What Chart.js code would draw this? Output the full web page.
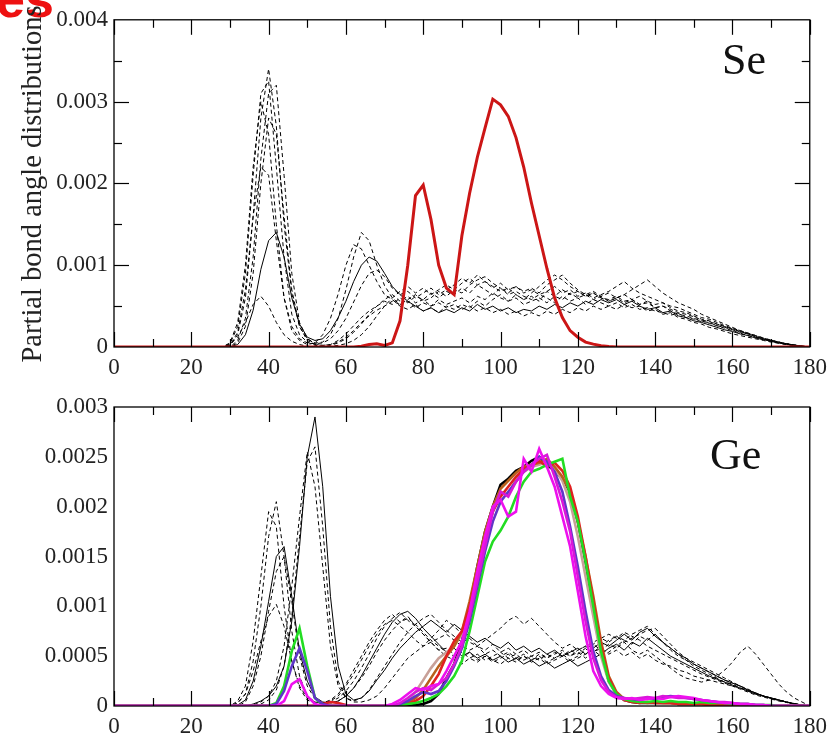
<!DOCTYPE html>
<html><head><meta charset="utf-8">
<script src="https://cdn.jsdelivr.net/npm/chart.js@4.4.0/dist/chart.umd.min.js"></script>
<style>
html,body{margin:0;padding:0;background:#fff;width:834px;height:739px;overflow:hidden;position:relative;}
canvas{position:absolute;left:0;}
#c1{top:0;} #c2{top:385px;}
.lbl{position:absolute;font-family:"Liberation Serif",serif;color:#111;line-height:1;white-space:nowrap;}
#ytitle{left:32px;top:184px;font-size:28.5px;transform:translate(-50%,-50%) rotate(-90deg);color:#222;}
#corner{position:absolute;left:-4px;top:-27px;font-family:"Liberation Sans",Arial,sans-serif;font-weight:bold;font-size:52px;line-height:1;color:#ee1111;}
</style></head><body>
<canvas id="c1" width="834" height="385"></canvas>
<canvas id="c2" width="834" height="354"></canvas>
<div id="corner">es</div>
<div class="lbl" id="ytitle">Partial bond angle distributions</div>
<div class="lbl" style="left:722px;top:38px;font-size:44px">Se</div>
<div class="lbl" style="left:710px;top:433px;font-size:44px">Ge</div>
<script>
// bond angle (degrees)
const angles = [0,28,30,32,34,36,38,40,42,44,46,48,50,52,54,56,58,60,62,64,66,68,70,72,74,76,78,80,82,84,86,88,90,92,94,96,98,100,102,104,106,108,110,112,114,116,118,120,122,124,126,128,130,132,134,136,138,140,142,144,146,148,150,152,154,156,158,160,162,164,166,168,170,172,174,176,178,180];
const xMajorTicks = [0,20,40,60,80,100,120,140,160,180];
const xMinorTicks = [10,30,50,70,90,110,130,150,170];
const seYTicksMajor = [0.001,0.002,0.003];
const seYTicksMinor = [0.0005,0.0015,0.0025,0.0035];

// ---- Se panel, values in units of 1e-4 ----
const seBlack1 = [0,
 0,0.2,1.5,6,16,28,34,27,15,6.5,
 2.5,0.8,0.3,0.2,0.3,0.6,1.2,2,3,3.8,
 4.5,5,5.6,5.2,5.8,6.4,5.6,6,6.8,6.2,
 7,6.6,7.6,8.2,8.6,7.8,7.2,6.4,6.8,6.2,
 5.8,6.4,6,5.4,6.2,5.6,6,5.2,5.8,5.4,
 5,5.4,4.8,5.2,4.6,4.8,4.4,4.2,3.9,4.1,
 3.6,3.4,3.1,3,2.6,2.4,2.1,1.8,1.6,1.3,
 1,0.8,0.6,0.4,0.25,0.1,0];
const seBlack2 = [0,
 0,0,0.8,3.5,11,23,31,32,21,9,
 3,1,0.5,0.6,1.5,3.5,7,11,14,13,
 10,7.5,6,5.2,5.6,4.8,5.4,5,5.8,5.2,
 5.6,6,5.4,6.2,5.8,6.6,6,5.6,6.4,5.8,
 6.2,5.6,6.8,6.2,7,6.4,6.8,6.2,6.6,6,
 5.8,6.2,5.6,5.8,5.2,5.4,4.8,5,4.6,4.2,
 4,3.7,3.3,3.1,2.8,2.5,2.2,1.9,1.6,1.3,
 1,0.8,0.6,0.4,0.2,0.1,0];
const seBlack3 = [0,
 0,0.5,3,10,22,30,26,15,6,2,
 0.8,0.3,0.5,1.5,3.5,6.5,10,12.5,12,10,
 8,6.4,5.8,5,4.6,5.2,4.4,4.8,4.2,5,
 4.6,5.2,4.8,5.6,5,5.8,6.4,5.6,6,5.2,
 5.6,6,5.4,6.2,5.8,6.6,6,6.4,5.8,6.2,
 5.6,6,6.4,7,7.6,8.2,7.4,6.6,6,5.4,
 5,4.6,4,3.6,3.2,2.8,2.4,2,1.7,1.4,
 1.1,0.8,0.6,0.4,0.25,0.1,0];
const seBlack4 = [0,
 0,0,0.5,2.5,9,20,28,26,16,7,
 2.5,1,0.4,0.2,0.3,0.8,1.6,2.6,3.6,4.4,
 5,5.6,5.2,6,5.4,6.2,5.8,6.6,6,6.8,
 6.4,7.2,6.6,7.6,7,6.4,7.2,6.6,7.4,6.8,
 7.2,6.6,7.6,8.2,8.8,7.8,7,6.4,6.8,6.2,
 6.6,6,6.4,5.8,6.2,5.6,5.2,5.4,4.8,4.4,
 4.2,3.8,3.4,3.2,2.8,2.5,2.2,1.9,1.6,1.2,
 0.9,0.7,0.5,0.35,0.2,0.1,0];
const seBlack5 = [0,
 0,0,0.3,1.5,4.5,9.5,13,14,11,6,
 2.8,1.2,0.8,1,2,3.6,5.6,8,10,11,
 10.5,9,7.4,6.4,5.6,5,4.4,4.8,4.2,4.6,
 4.2,4.8,4.4,5.2,4.6,5,4.4,4.8,4.2,4.6,
 4.4,5,4.6,5.2,4.8,5.4,5,5.6,5.2,5.8,
 5.4,5.8,5.2,5.6,5,4.6,4.8,4.2,4.4,3.8,
 3.6,3.2,3,2.7,2.4,2.1,1.9,1.6,1.4,1.1,
 0.9,0.7,0.5,0.3,0.2,0.1,0];
const seBlack6 = [0,
 0,0.3,1.2,3,5.2,6.2,5,3,1.5,0.7,
 0.3,0.1,0,0,0.2,0.5,1,1.8,2.8,4,
 5,5.8,6.4,5.6,6.2,5.4,5.8,5,5.4,4.8,
 5.2,4.6,5,4.4,4.8,4.2,4.6,4,4.4,3.8,
 4.2,3.8,4.4,4,4.6,4.2,4.8,4.4,5,4.6,
 5,4.6,5.2,4.8,5,4.4,4.6,4,4.2,3.6,
 3.4,3,2.8,2.4,2.2,1.9,1.6,1.4,1.2,1,
 0.8,0.6,0.45,0.3,0.2,0.1,0];
const seBlack7 = [0,
 0,0.2,1.8,7,16,22,21,13,6,2.5,
 1,0.5,0.4,0.5,1,2,3.5,5.5,7.5,9,
 9.4,8.6,7.2,6.4,6.8,6,6.6,7.2,6.4,7,
 7.6,8.4,7.8,8.8,8,7.4,6.8,7.2,6.4,5.8,
 6.6,7.4,8.2,8.8,8.2,7.4,6.8,6.2,6.6,6,
 5.6,6,5.4,5.8,5.2,5.6,4.8,5,4.4,4,
 3.8,3.5,3.2,2.9,2.6,2.3,2,1.7,1.4,1.2,
 1,0.7,0.5,0.35,0.2,0.1,0];
const seBlack8 = [0,
 0,0.4,2.5,9,21,31,32.5,22,11,4,
 1.5,0.6,0.2,0.1,0.1,0.2,0.4,0.8,1.5,2.5,
 3.8,5,6,6.8,7.4,6.6,7.2,6.4,7,7.6,
 7,7.8,8.4,7.6,8,7.2,7.8,7,7.4,6.6,
 7,6.4,6.8,7.4,6.6,7,6.2,6.6,6,6.4,
 6.8,7.4,8,7.2,6.6,6.2,5.8,5.4,5,4.8,
 4.4,4,3.6,3.4,3,2.6,2.3,2,1.7,1.4,
 1.1,0.85,0.6,0.4,0.25,0.1,0];
const seRed = [0,
 0,0,0,0,0,0,0,0,0,0,
 0,0,0,0,0,0,0,0,0.1,0.3,
 0.4,0.2,0.5,3.2,10,18.5,19.8,15.6,10,7.2,
 6.4,13.6,18.8,23.2,26.8,30.3,29.6,28.2,25.6,22,
 17.6,13.6,9.6,6,3.6,2,1.2,0.6,0.35,0.15,
 0.05,0,0,0,0,0,0,0,0,0,
 0,0,0,0,0,0,0,0,0,0,
 0,0,0,0,0,0,0];

// ---- Ge panel, values in units of 1e-4 ----
const geBlack1 = [0,
 0,0,0.3,1.2,4.5,10,17,20.5,15,7.5,
 3,1,0.4,0.3,0.4,0.8,1.5,2.5,3.8,5.2,
 6.8,8,8.8,9.4,8.6,8,7.2,6.4,5.6,5.8,
 5.2,4.8,5.4,4.6,5,4.4,4.8,5.2,4.6,5,
 4.4,4.8,4.2,4.6,5,4.4,4.8,5.2,5.6,5,
 5.4,6,6.6,6.2,7,6.6,7.2,6.4,5.8,5.2,
 4.6,4,3.6,3.2,2.8,2.4,2.2,1.8,1.6,1.3,
 1,0.8,0.6,0.4,0.25,0.1,0];
const geBlack2 = [0,
 0,0,0.1,0.6,2.5,6,10.5,15,16,11,
 5.5,2.5,0.9,0.4,0.3,0.5,1,1.8,3,4.4,
 5.8,7.2,8.4,9.2,9.5,8.8,7.8,7,6.2,5.4,
 5.8,5,5.4,4.8,5.2,4.6,5,4.4,4.8,4.2,
 4.6,4,4.4,3.8,4.2,4.6,4,4.4,4.8,5.2,
 5.8,6.2,5.6,6.4,6,6.8,6.2,5.6,5,4.6,
 4.2,3.8,3.4,3,2.7,2.4,2.1,1.8,1.5,1.2,
 1,0.8,0.6,0.4,0.2,0.1,0];
const geBlack3 = [0,
 0,0,0,0,0.2,0.5,1,2,4,8.5,
 16,25,29,22,11,4,1.2,0.6,0.8,1.5,
 2.6,3.6,4.8,5.8,6.6,7.4,8,8.6,8,7.4,
 8.2,7.6,7,6.4,6.8,6.2,5.8,6.4,5.6,6,
 5.4,5.8,5.2,5.6,5,5.4,5.8,5.2,5.8,6.4,
 6,6.6,7.2,6.6,7.4,7.8,7,6.4,5.8,5.2,
 4.8,4.2,3.8,3.4,3,2.6,2.3,2,1.6,1.3,
 1,0.8,0.6,0.4,0.25,0.1,0];
const geBlack4 = [0,
 0,0,0,0,0.1,0.4,1,2.5,6,12,
 19,25.5,22,14,6,2,0.8,0.5,0.8,1.6,
 2.8,4,5.2,6.4,7.4,8.2,8.8,9.2,8.4,7.6,
 7,6.4,6.8,6,5.6,6.2,5.4,5.8,5.2,5.6,
 5,5.4,4.8,5.2,5.6,5,5.4,4.8,5.4,6,
 6.6,7,6.4,6.8,7.2,7.6,7.8,7,6.2,5.4,
 4.8,4.4,4,3.6,3.2,2.8,2.4,2,1.7,1.3,
 1,0.75,0.55,0.4,0.2,0.1,0];
const geBlack5 = [0,
 0,0,0.3,1.2,3.5,6.5,9,10.2,8,4.5,
 2,0.8,0.4,0.3,0.5,1,2,3.2,4.6,6,
 7.2,8.2,8.6,8,7.4,6.6,6,6.8,7.6,8.6,
 8,7.2,6.4,6,6.6,7.2,7.8,8.6,9,8.2,
 8.8,8,7.2,6.4,5.8,6.2,5.6,6,5.4,5.8,
 5.2,5.6,5,5.4,4.8,5.2,4.6,4.2,4,3.6,
 3.4,3,2.8,2.6,2.4,2.2,2,1.8,1.5,1.2,
 1,0.8,0.6,0.4,0.2,0.1,0];
const geBlack6 = [0,
 0,0,0.5,2,6.5,13,19.5,18,10,4.5,
 1.8,0.6,0.3,0.3,0.6,1.2,2.2,3.6,5,6.4,
 7.6,8.6,9.2,8.4,9,8,7.2,6.4,5.6,5,
 4.6,4.2,4.8,4.4,5,4.6,4.2,4.8,4.4,5,
 4.6,5.2,4.8,5.4,5,5.6,5.2,5.8,6.2,5.6,
 6.2,5.8,6.4,5.6,5.2,5.6,5,4.4,3.8,3.2,
 2.8,2.6,2.4,2.6,3,3.6,4.4,5.4,6,5.2,
 4.2,3.2,2.2,1.4,0.8,0.4,0];
const geBlack7 = [0,
 0,0,0,0,0,0.2,0.6,1.6,4,9,
 17,24.5,26,18,8,2.5,0.8,0.4,0.4,0.6,
 1,1.8,2.8,3.8,4.8,5.4,6,6.4,6.8,7.2,
 6.6,6,5.6,6,5.2,5.6,5,5.4,4.8,5.2,
 4.6,5,4.4,4.8,5.2,4.6,5,5.6,6.2,6.8,
 6.4,7,6.6,7.2,7.6,8,7.2,6.4,5.6,5,
 4.6,4.2,3.8,3.4,3,2.6,2.3,2,1.6,1.3,
 1,0.8,0.6,0.4,0.2,0.1,0];
const geBlack8 = [0,
 0,0,0,0.4,2,5,9.5,13.5,15,10.5,
 5,2,0.7,0.3,0.3,0.5,1,1.8,2.8,4,
 5.4,6.6,7.6,8.4,8.8,8.2,7.4,6.6,6,5.4,
 5,5.4,4.8,5.2,4.6,5,5.4,4.8,5.2,4.6,
 5,4.6,5.2,4.8,5.4,5,5.6,6,6.4,6.8,
 7.2,6.8,7.4,7,6.6,6,5.6,5.2,4.8,4.4,
 4,3.6,3.2,2.9,2.6,2.3,2,1.7,1.4,1.1,
 0.9,0.7,0.5,0.35,0.2,0.1,0];
const geMagenta1 = [0,
 0,0,0,0,0,0,0,0,0.5,2.2,
 2.7,1,0.2,0,0,0,0,0,0,0,
 0,0,0.2,0.6,1.2,1.8,1.6,2,2.2,3.5,
 5,6.5,9.5,13.5,17,20,20.7,19,19.5,24.8,
 23.5,25.8,24,22,19,16,11.5,7,3.5,2,
 1.2,0.8,0.7,0.8,0.6,0.7,0.8,0.7,0.9,1,
 0.9,0.8,0.6,0.5,0.4,0.3,0.3,0.2,0.2,0.1,
 0.1,0,0,0,0,0,0];
const geMagenta2 = [0,
 0,0,0,0,0,0,0,0,0,0,
 0,0,0,0,0,0,0,0,0,0,
 0,0,0,0.3,0.8,1.4,1.8,1.6,2.2,2.8,
 4.2,6,9,12.5,16,19.5,21.5,21,22.5,23.5,
 24.2,24.8,25.2,23,20.5,17.5,13,8.5,4.8,2.6,
 1.4,0.9,0.8,0.7,0.8,0.9,0.8,1,0.9,0.8,
 0.8,0.7,0.6,0.5,0.4,0.4,0.3,0.2,0.2,0.1,
 0.1,0,0,0,0,0,0];
const geBlue = [0,
 0,0,0,0,0,0,0,0.2,1.5,4,
 5.8,3.5,0.8,0.2,0,0,0,0,0,0,
 0,0,0,0.2,0.5,1,1.4,1.2,1.5,2.5,
 4,5.8,8.5,12,15.5,18.5,20.5,21.5,22.5,23.5,
 24.2,25,24.5,23.5,21.5,18,14,9.5,5.5,3,
 1.6,1,0.8,0.7,0.6,0.8,0.7,0.9,1,0.9,
 0.8,0.7,0.6,0.5,0.4,0.3,0.3,0.2,0.2,0.1,
 0.1,0,0,0,0,0,0];
const geGreen = [0,
 0,0,0,0,0,0,0,0.3,2,5.5,
 7.8,4,0.8,0.1,0,0,0,0,0,0,
 0,0,0,0.1,0.2,0.3,0.5,0.8,1.2,2,
 3,4.5,7.5,11,14.5,16.5,17.6,19,21,22.5,
 23.5,23.8,24.2,24.5,24.8,21,18.5,14.5,10,5.5,
 2.5,1.2,0.7,0.5,0.4,0.4,0.5,0.4,0.5,0.4,
 0.4,0.3,0.4,0.3,0.3,0.3,0.2,0.2,0.2,0.1,
 0.1,0.1,0,0,0,0,0];
const geBlackThick = [0,
 0,0,0,0,0,0,0,0,0,0,
 0,0,0,0,0,0,0,0,0,0,
 0,0,0,0,0,0.1,0.2,0.5,1.2,2.8,
 4.2,6.5,10,14,17.5,20,22.2,22.8,23.6,24,
 24.6,25,24.2,23.6,22.8,21.5,18.5,14.5,10,5.5,
 2.5,1.2,0.6,0.4,0.3,0.3,0.3,0.3,0.3,0.2,
 0.2,0.2,0.2,0.2,0.1,0.1,0.1,0.1,0.1,0,
 0,0,0,0,0,0,0];
const geRed = [0,
 0,0,0,0,0,0,0,0,0,0,
 0,0,0,0.2,0.4,0.3,0.1,0,0,0,
 0,0,0,0,0.2,0.5,1,2,3.2,5,
 6.5,7.5,10,13.5,17,19.5,21,22,23,23.8,
 24.2,24.6,24,24.4,23.6,22,19,15,10.5,6,
 2.8,1.3,0.6,0.4,0.3,0.4,0.3,0.3,0.3,0.2,
 0.2,0.2,0.2,0.1,0.1,0.1,0.1,0,0,0,
 0,0,0,0,0,0,0];
const geBrown = [0,
 0,0,0,0,0,0,0,0,0,0,
 0,0,0,0,0,0,0,0,0,0,
 0,0,0,0,0.3,0.8,1.6,2.8,4,5,
 6,7.5,10.5,14,17.5,20,21.8,22.6,23.4,24,
 24.2,24.4,24.8,24,23,21.5,18.5,15,11,6.5,
 3,1.4,0.7,0.5,0.4,0.3,0.4,0.3,0.3,0.2,
 0.2,0.2,0.2,0.1,0.1,0.1,0.1,0.1,0,0,
 0,0,0,0,0,0,0];
const geTan = [0,
 0,0,0,0,0,0,0,0,0,0,
 0,0,0,0,0,0,0,0,0,0,
 0,0,0,0.2,0.6,1.4,2.6,3.8,4.8,5.4,
 6,7.2,9.5,12.8,16.5,19.5,21.5,21.2,22.8,23.5,
 24,24.2,24.5,23.8,22.6,20.5,17,13,9,5,
 2.4,1.2,0.6,0.5,0.4,0.4,0.3,0.3,0.3,0.2,
 0.2,0.2,0.1,0.1,0.1,0.1,0.1,0,0,0,
 0,0,0,0,0,0,0];

const UNIT = 1e-4;
const pts = vals => vals.map((v,i) => ({x: angles[i], y: v*UNIT}));
const dashed = (vals, solid) => ({data: pts(vals), borderColor:'#000', borderWidth:1, borderDash: solid?[]:[4,3], pointRadius:0, fill:false, tension:0});
const thick = (vals, color, w) => ({data: pts(vals), borderColor:color, borderWidth:w||2.6, pointRadius:0, fill:false, tension:0});

const fmt = v => { if (Math.abs(v) < 1e-12) return '0'; return String(parseFloat(v.toPrecision(4))); };

const framePlugin = {
  id: 'frame',
  afterDatasetsDraw(chart, args, o) {
    const {ctx, chartArea, scales} = chart;
    const {left, right, top, bottom} = chartArea;
    const x = scales.x, y = scales.y;
    ctx.save();
    ctx.strokeStyle = '#000';
    ctx.lineWidth = 1.3;
    ctx.strokeRect(left, top, right-left, bottom-top);
    ctx.lineWidth = 1.2;
    const seg = (a,b,c,d) => { ctx.beginPath(); ctx.moveTo(a,b); ctx.lineTo(c,d); ctx.stroke(); };
    (o.xMajor||[]).forEach(v => { const p = Math.round(x.getPixelForValue(v))+0.5; seg(p,bottom,p,bottom-15); seg(p,top,p,top+15); });
    (o.xMinor||[]).forEach(v => { const p = Math.round(x.getPixelForValue(v))+0.5; seg(p,bottom,p,bottom-8); seg(p,top,p,top+8); });
    (o.yMajor||[]).forEach(v => { const p = Math.round(y.getPixelForValue(v))+0.5; seg(left,p,left+15,p); seg(right,p,right-15,p); });
    (o.yMinor||[]).forEach(v => { const p = Math.round(y.getPixelForValue(v))+0.5; seg(left,p,left+8,p); seg(right,p,right-8,p); });
    ctx.restore();
  }
};

function makeChart(id, datasets, ymax, ystep, padTop, xAxisH, frameOpts) {
  return new Chart(document.getElementById(id), {
    type: 'line',
    data: { datasets },
    plugins: [framePlugin],
    options: {
      responsive: false, animation: false, devicePixelRatio: 1,
      layout: { padding: { left: 0, right: 23, top: padTop, bottom: 0 } },
      plugins: { legend: {display:false}, tooltip: {enabled:false}, frame: frameOpts },
      scales: {
        x: { type:'linear', min:0, max:180,
             grid:{display:false, drawTicks:false}, border:{display:false},
             ticks:{ stepSize:20, autoSkip:false, maxRotation:0, padding:7, color:'#222',
                     font:{family:'"Liberation Serif", serif', size:23},
                     callback: v => String(v) },
             afterFit: s => { s.height = xAxisH; } },
        y: { type:'linear', min:0, max:ymax,
             grid:{display:false, drawTicks:false}, border:{display:false},
             ticks:{ stepSize:ystep, autoSkip:false, padding:6, color:'#222',
                     font:{family:'"Liberation Serif", serif', size:23},
                     callback: v => fmt(v) },
             afterFit: s => { s.width = 114; } }
      }
    }
  });
}

const seSets = [
  thick(seRed, '#cc1616', 3),
  dashed(seBlack1), dashed(seBlack2), dashed(seBlack3), dashed(seBlack4),
  dashed(seBlack5, true), dashed(seBlack6), dashed(seBlack7), dashed(seBlack8)
];
makeChart('c1', seSets, 0.004, 0.001, 13, 38,
  {xMajor:xMajorTicks, xMinor:xMinorTicks, yMajor:seYTicksMajor, yMinor:seYTicksMinor});

const geSets = [
  thick(geMagenta1, '#ee10ee'), thick(geMagenta2, '#d818d8'), thick(geBlue, '#6036c8'),
  thick(geGreen, '#22dd22'), thick(geRed, '#e02020'), thick(geBrown, '#b8601c'),
  thick(geTan, '#c8a098'), thick(geBlackThick, '#000'),
  dashed(geBlack1), dashed(geBlack2, true), dashed(geBlack3, true), dashed(geBlack4),
  dashed(geBlack5), dashed(geBlack6), dashed(geBlack7), dashed(geBlack8)
];
makeChart('c2', geSets, 0.003, 0.0005, 22, 33,
  {xMajor:xMajorTicks, xMinor:xMinorTicks, yMajor:[], yMinor:[]});
</script>
</body></html>
